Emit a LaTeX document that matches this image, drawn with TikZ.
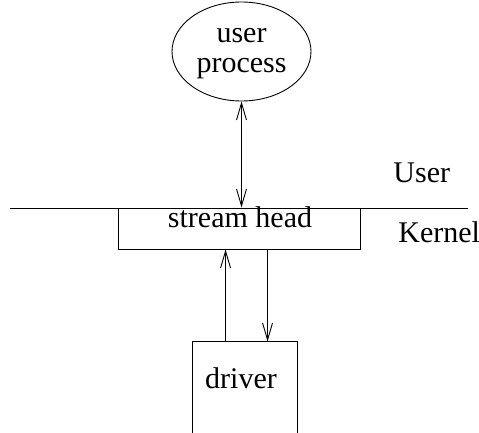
\documentclass[tikz,border=0pt]{standalone}
\usepackage{fontspec}
\setmainfont{Liberation Serif}
\usetikzlibrary{shapes.geometric,arrows.meta}
\begin{document}
\begin{tikzpicture}[x=1pt,y=-1pt,
  line width=0.9pt,
  lbl/.style={font=\fontsize{30}{30}\selectfont, inner sep=0pt},
  tip/.style={-{Straight Barb[length=17pt,width=10pt,line width=0.9pt]}},
  tips/.style={{Straight Barb[length=17pt,width=10pt,line width=0.9pt]}-{Straight Barb[length=17pt,width=10pt,line width=0.9pt]}},
  box/.style={draw, rectangle, inner sep=0pt}]
\useasboundingbox (0,0) rectangle (479,433);
\node[draw, ellipse, minimum width=139pt, minimum height=99pt, inner sep=0pt] (up) at (241.5,51.5) {};
\node[lbl, anchor=base] (upt1) at (241.5,43) {user};
\node[lbl, anchor=base] (upt2) at (241.5,73) {process};
\coordinate (L) at (10,208);
\coordinate (R) at (468,208);
\draw (L) -- (R);
\node[box, minimum width=242pt, minimum height=41pt] (sh) at (239,228.5) {};
\node[lbl, anchor=base] (sht) at (240,227) {stream head};
\node[lbl, anchor=base west] (user) at (393,182) {User};
\node[lbl, anchor=base west] (kern) at (398,242) {Kernel};
\node[inner sep=0pt, minimum width=104pt, minimum height=91pt] (drv) at (245,387.5) {};
\draw (drv.south west) -- (drv.north west) -- (drv.north east) -- (drv.south east);
\node[lbl, anchor=base] (drvt) at (241,388) {driver};
\draw[tips] (up.south) -- (up.south |- sh.north);
\draw[tip] ([xshift=33pt]drv.north west) -- ([xshift=33pt]drv.north west |- sh.south);
\draw[tip] ([xshift=75pt]drv.north west |- sh.south) -- ([xshift=75pt]drv.north west);
\end{tikzpicture}
\end{document}
